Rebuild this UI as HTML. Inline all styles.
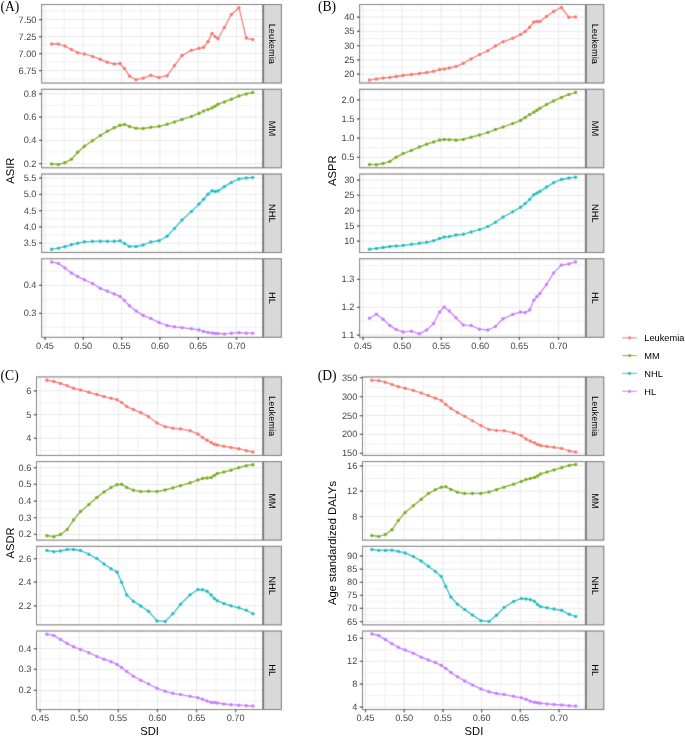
<!DOCTYPE html>
<html><head><meta charset="utf-8"><style>
html,body{margin:0;padding:0;background:#fff;}
svg{display:block;font-family:"Liberation Sans",sans-serif;will-change:transform;}
.ax{text-rendering:geometricPrecision;}
</style></head><body>
<svg width="685" height="736" viewBox="0 0 685 736">
<defs><filter id="bl" x="0" y="0" width="685" height="736" filterUnits="userSpaceOnUse"><feConvolveMatrix order="3" kernelMatrix="0.01440 0.09120 0.01440 0.09120 0.57760 0.09120 0.01440 0.09120 0.01440" divisor="1" edgeMode="duplicate" preserveAlpha="true"/></filter></defs>
<rect width="685" height="736" fill="#fff"/>
<g filter="url(#bl)">
<rect width="685" height="736" fill="#fff"/>
<rect x="41.65" y="4.50" width="221.05" height="78.55" fill="#fff"/>
<path d="M41.65 79.00H262.70M41.65 62.00H262.70M41.65 45.00H262.70M41.65 28.00H262.70M41.65 11.00H262.70M64.15 4.50V83.05M102.45 4.50V83.05M140.75 4.50V83.05M179.05 4.50V83.05M217.35 4.50V83.05M255.65 4.50V83.05" stroke="#EDEDED" stroke-width="0.8" fill="none"/>
<path d="M41.65 70.50H262.70M41.65 53.50H262.70M41.65 36.50H262.70M41.65 19.50H262.70M45.00 4.50V83.05M83.30 4.50V83.05M121.60 4.50V83.05M159.90 4.50V83.05M198.20 4.50V83.05M236.50 4.50V83.05" stroke="#E9E9E9" stroke-width="1.0" fill="none"/>
<polyline points="51.60,44.00 58.34,44.00 64.88,46.10 71.42,49.50 77.66,52.70 84.40,54.00 92.50,56.40 100.31,59.30 107.34,62.20 114.18,64.10 120.03,63.50 124.52,68.60 129.50,76.10 136.04,79.70 143.17,78.20 150.78,75.30 159.08,77.40 167.09,75.70 174.51,65.60 182.02,55.40 191.39,50.30 199.01,48.30 203.60,47.30 207.99,41.60 211.99,33.40 215.02,36.40 217.95,38.70 224.39,27.50 231.32,14.40 238.94,7.70 246.26,38.10 252.70,39.60" stroke="#F8766D" stroke-width="1.3" fill="none" stroke-linejoin="round"/>
<g fill="#F8766D"><circle cx="51.60" cy="44.00" r="1.75"/><circle cx="58.34" cy="44.00" r="1.75"/><circle cx="64.88" cy="46.10" r="1.75"/><circle cx="71.42" cy="49.50" r="1.75"/><circle cx="77.66" cy="52.70" r="1.75"/><circle cx="84.40" cy="54.00" r="1.75"/><circle cx="92.50" cy="56.40" r="1.75"/><circle cx="100.31" cy="59.30" r="1.75"/><circle cx="107.34" cy="62.20" r="1.75"/><circle cx="114.18" cy="64.10" r="1.75"/><circle cx="120.03" cy="63.50" r="1.75"/><circle cx="124.52" cy="68.60" r="1.75"/><circle cx="129.50" cy="76.10" r="1.75"/><circle cx="136.04" cy="79.70" r="1.75"/><circle cx="143.17" cy="78.20" r="1.75"/><circle cx="150.78" cy="75.30" r="1.75"/><circle cx="159.08" cy="77.40" r="1.75"/><circle cx="167.09" cy="75.70" r="1.75"/><circle cx="174.51" cy="65.60" r="1.75"/><circle cx="182.02" cy="55.40" r="1.75"/><circle cx="191.39" cy="50.30" r="1.75"/><circle cx="199.01" cy="48.30" r="1.75"/><circle cx="203.60" cy="47.30" r="1.75"/><circle cx="207.99" cy="41.60" r="1.75"/><circle cx="211.99" cy="33.40" r="1.75"/><circle cx="215.02" cy="36.40" r="1.75"/><circle cx="217.95" cy="38.70" r="1.75"/><circle cx="224.39" cy="27.50" r="1.75"/><circle cx="231.32" cy="14.40" r="1.75"/><circle cx="238.94" cy="7.70" r="1.75"/><circle cx="246.26" cy="38.10" r="1.75"/><circle cx="252.70" cy="39.60" r="1.75"/></g>
<rect x="41.65" y="4.50" width="221.05" height="78.55" fill="none" stroke="#6A6A6A" stroke-width="1.0"/>
<rect x="263.60" y="4.50" width="17.80" height="78.55" fill="#D9D9D9" stroke="#6A6A6A" stroke-width="1.0"/>
<path class="tk" d="M38.95 70.50H41.65M38.95 53.50H41.65M38.95 36.50H41.65M38.95 19.50H41.65" stroke="#333333" stroke-width="1.25"/>
<rect x="41.65" y="89.25" width="221.05" height="78.55" fill="#fff"/>
<path d="M41.65 151.97H262.70M41.65 128.70H262.70M41.65 105.43H262.70M64.15 89.25V167.80M102.45 89.25V167.80M140.75 89.25V167.80M179.05 89.25V167.80M217.35 89.25V167.80M255.65 89.25V167.80" stroke="#EDEDED" stroke-width="0.8" fill="none"/>
<path d="M41.65 163.60H262.70M41.65 140.33H262.70M41.65 117.07H262.70M41.65 93.80H262.70M45.00 89.25V167.80M83.30 89.25V167.80M121.60 89.25V167.80M159.90 89.25V167.80M198.20 89.25V167.80M236.50 89.25V167.80" stroke="#E9E9E9" stroke-width="1.0" fill="none"/>
<polyline points="51.60,163.90 58.34,164.50 64.88,162.70 71.42,159.30 77.66,152.30 84.40,146.30 92.50,140.70 100.31,135.50 107.34,131.30 114.18,127.80 120.03,125.30 124.52,124.60 129.50,126.40 136.04,128.30 143.17,128.50 150.78,127.35 159.08,126.30 167.09,124.30 174.51,121.90 182.02,119.40 191.39,116.40 199.01,113.30 203.60,111.00 207.99,109.50 211.99,108.10 215.02,106.30 217.95,104.30 224.39,101.90 231.32,99.20 238.94,96.10 246.26,93.90 252.70,92.50" stroke="#7CAE00" stroke-width="1.3" fill="none" stroke-linejoin="round"/>
<g fill="#7CAE00"><circle cx="51.60" cy="163.90" r="1.75"/><circle cx="58.34" cy="164.50" r="1.75"/><circle cx="64.88" cy="162.70" r="1.75"/><circle cx="71.42" cy="159.30" r="1.75"/><circle cx="77.66" cy="152.30" r="1.75"/><circle cx="84.40" cy="146.30" r="1.75"/><circle cx="92.50" cy="140.70" r="1.75"/><circle cx="100.31" cy="135.50" r="1.75"/><circle cx="107.34" cy="131.30" r="1.75"/><circle cx="114.18" cy="127.80" r="1.75"/><circle cx="120.03" cy="125.30" r="1.75"/><circle cx="124.52" cy="124.60" r="1.75"/><circle cx="129.50" cy="126.40" r="1.75"/><circle cx="136.04" cy="128.30" r="1.75"/><circle cx="143.17" cy="128.50" r="1.75"/><circle cx="150.78" cy="127.35" r="1.75"/><circle cx="159.08" cy="126.30" r="1.75"/><circle cx="167.09" cy="124.30" r="1.75"/><circle cx="174.51" cy="121.90" r="1.75"/><circle cx="182.02" cy="119.40" r="1.75"/><circle cx="191.39" cy="116.40" r="1.75"/><circle cx="199.01" cy="113.30" r="1.75"/><circle cx="203.60" cy="111.00" r="1.75"/><circle cx="207.99" cy="109.50" r="1.75"/><circle cx="211.99" cy="108.10" r="1.75"/><circle cx="215.02" cy="106.30" r="1.75"/><circle cx="217.95" cy="104.30" r="1.75"/><circle cx="224.39" cy="101.90" r="1.75"/><circle cx="231.32" cy="99.20" r="1.75"/><circle cx="238.94" cy="96.10" r="1.75"/><circle cx="246.26" cy="93.90" r="1.75"/><circle cx="252.70" cy="92.50" r="1.75"/></g>
<rect x="41.65" y="89.25" width="221.05" height="78.55" fill="none" stroke="#6A6A6A" stroke-width="1.0"/>
<rect x="263.60" y="89.25" width="17.80" height="78.55" fill="#D9D9D9" stroke="#6A6A6A" stroke-width="1.0"/>
<path class="tk" d="M38.95 163.60H41.65M38.95 140.33H41.65M38.95 117.07H41.65M38.95 93.80H41.65" stroke="#333333" stroke-width="1.25"/>
<rect x="41.65" y="174.00" width="221.05" height="78.55" fill="#fff"/>
<path d="M41.65 251.35H262.70M41.65 235.05H262.70M41.65 218.75H262.70M41.65 202.45H262.70M41.65 186.15H262.70M64.15 174.00V252.55M102.45 174.00V252.55M140.75 174.00V252.55M179.05 174.00V252.55M217.35 174.00V252.55M255.65 174.00V252.55" stroke="#EDEDED" stroke-width="0.8" fill="none"/>
<path d="M41.65 243.20H262.70M41.65 226.90H262.70M41.65 210.60H262.70M41.65 194.30H262.70M41.65 178.00H262.70M45.00 174.00V252.55M83.30 174.00V252.55M121.60 174.00V252.55M159.90 174.00V252.55M198.20 174.00V252.55M236.50 174.00V252.55" stroke="#E9E9E9" stroke-width="1.0" fill="none"/>
<polyline points="51.60,249.20 58.34,248.20 64.88,246.70 71.42,244.80 77.66,243.20 84.40,241.80 92.50,241.30 100.31,241.20 107.34,241.30 114.18,241.30 120.03,240.80 124.52,243.50 129.50,246.40 136.04,246.50 143.17,245.00 150.78,242.00 159.08,240.70 167.09,236.30 174.51,228.40 182.02,220.00 191.39,211.40 199.01,204.10 203.60,199.20 207.99,194.30 211.99,190.80 215.02,191.50 217.95,191.10 224.39,186.60 231.32,182.40 238.94,179.00 246.26,178.00 252.70,177.40" stroke="#00BFC4" stroke-width="1.3" fill="none" stroke-linejoin="round"/>
<g fill="#00BFC4"><circle cx="51.60" cy="249.20" r="1.75"/><circle cx="58.34" cy="248.20" r="1.75"/><circle cx="64.88" cy="246.70" r="1.75"/><circle cx="71.42" cy="244.80" r="1.75"/><circle cx="77.66" cy="243.20" r="1.75"/><circle cx="84.40" cy="241.80" r="1.75"/><circle cx="92.50" cy="241.30" r="1.75"/><circle cx="100.31" cy="241.20" r="1.75"/><circle cx="107.34" cy="241.30" r="1.75"/><circle cx="114.18" cy="241.30" r="1.75"/><circle cx="120.03" cy="240.80" r="1.75"/><circle cx="124.52" cy="243.50" r="1.75"/><circle cx="129.50" cy="246.40" r="1.75"/><circle cx="136.04" cy="246.50" r="1.75"/><circle cx="143.17" cy="245.00" r="1.75"/><circle cx="150.78" cy="242.00" r="1.75"/><circle cx="159.08" cy="240.70" r="1.75"/><circle cx="167.09" cy="236.30" r="1.75"/><circle cx="174.51" cy="228.40" r="1.75"/><circle cx="182.02" cy="220.00" r="1.75"/><circle cx="191.39" cy="211.40" r="1.75"/><circle cx="199.01" cy="204.10" r="1.75"/><circle cx="203.60" cy="199.20" r="1.75"/><circle cx="207.99" cy="194.30" r="1.75"/><circle cx="211.99" cy="190.80" r="1.75"/><circle cx="215.02" cy="191.50" r="1.75"/><circle cx="217.95" cy="191.10" r="1.75"/><circle cx="224.39" cy="186.60" r="1.75"/><circle cx="231.32" cy="182.40" r="1.75"/><circle cx="238.94" cy="179.00" r="1.75"/><circle cx="246.26" cy="178.00" r="1.75"/><circle cx="252.70" cy="177.40" r="1.75"/></g>
<rect x="41.65" y="174.00" width="221.05" height="78.55" fill="none" stroke="#6A6A6A" stroke-width="1.0"/>
<rect x="263.60" y="174.00" width="17.80" height="78.55" fill="#D9D9D9" stroke="#6A6A6A" stroke-width="1.0"/>
<path class="tk" d="M38.95 243.20H41.65M38.95 226.90H41.65M38.95 210.60H41.65M38.95 194.30H41.65M38.95 178.00H41.65" stroke="#333333" stroke-width="1.25"/>
<rect x="41.65" y="258.75" width="221.05" height="78.55" fill="#fff"/>
<path d="M41.65 327.40H262.70M41.65 299.40H262.70M41.65 271.40H262.70M64.15 258.75V337.30M102.45 258.75V337.30M140.75 258.75V337.30M179.05 258.75V337.30M217.35 258.75V337.30M255.65 258.75V337.30" stroke="#EDEDED" stroke-width="0.8" fill="none"/>
<path d="M41.65 313.40H262.70M41.65 285.40H262.70M45.00 258.75V337.30M83.30 258.75V337.30M121.60 258.75V337.30M159.90 258.75V337.30M198.20 258.75V337.30M236.50 258.75V337.30" stroke="#E9E9E9" stroke-width="1.0" fill="none"/>
<polyline points="51.60,261.90 58.34,263.40 64.88,267.90 71.42,272.90 77.66,276.60 84.40,279.80 92.50,283.50 100.31,288.40 107.34,291.10 114.18,293.90 120.03,296.40 124.52,300.60 129.50,305.80 136.04,310.90 143.17,315.40 150.78,318.40 159.08,322.60 167.09,325.50 174.51,326.80 182.02,327.70 191.39,328.80 199.01,330.00 203.60,331.40 207.99,332.40 211.99,332.90 215.02,333.40 217.95,333.50 224.39,333.90 231.32,333.20 238.94,332.70 246.26,333.20 252.70,333.20" stroke="#C77CFF" stroke-width="1.3" fill="none" stroke-linejoin="round"/>
<g fill="#C77CFF"><circle cx="51.60" cy="261.90" r="1.75"/><circle cx="58.34" cy="263.40" r="1.75"/><circle cx="64.88" cy="267.90" r="1.75"/><circle cx="71.42" cy="272.90" r="1.75"/><circle cx="77.66" cy="276.60" r="1.75"/><circle cx="84.40" cy="279.80" r="1.75"/><circle cx="92.50" cy="283.50" r="1.75"/><circle cx="100.31" cy="288.40" r="1.75"/><circle cx="107.34" cy="291.10" r="1.75"/><circle cx="114.18" cy="293.90" r="1.75"/><circle cx="120.03" cy="296.40" r="1.75"/><circle cx="124.52" cy="300.60" r="1.75"/><circle cx="129.50" cy="305.80" r="1.75"/><circle cx="136.04" cy="310.90" r="1.75"/><circle cx="143.17" cy="315.40" r="1.75"/><circle cx="150.78" cy="318.40" r="1.75"/><circle cx="159.08" cy="322.60" r="1.75"/><circle cx="167.09" cy="325.50" r="1.75"/><circle cx="174.51" cy="326.80" r="1.75"/><circle cx="182.02" cy="327.70" r="1.75"/><circle cx="191.39" cy="328.80" r="1.75"/><circle cx="199.01" cy="330.00" r="1.75"/><circle cx="203.60" cy="331.40" r="1.75"/><circle cx="207.99" cy="332.40" r="1.75"/><circle cx="211.99" cy="332.90" r="1.75"/><circle cx="215.02" cy="333.40" r="1.75"/><circle cx="217.95" cy="333.50" r="1.75"/><circle cx="224.39" cy="333.90" r="1.75"/><circle cx="231.32" cy="333.20" r="1.75"/><circle cx="238.94" cy="332.70" r="1.75"/><circle cx="246.26" cy="333.20" r="1.75"/><circle cx="252.70" cy="333.20" r="1.75"/></g>
<rect x="41.65" y="258.75" width="221.05" height="78.55" fill="none" stroke="#6A6A6A" stroke-width="1.0"/>
<rect x="263.60" y="258.75" width="17.80" height="78.55" fill="#D9D9D9" stroke="#6A6A6A" stroke-width="1.0"/>
<path class="tk" d="M38.95 313.40H41.65M38.95 285.40H41.65" stroke="#333333" stroke-width="1.25"/>
<path class="tk" d="M45.00 337.30V340.00M83.30 337.30V340.00M121.60 337.30V340.00M159.90 337.30V340.00M198.20 337.30V340.00M236.50 337.30V340.00" stroke="#333333" stroke-width="1.25"/>
<rect x="359.60" y="4.50" width="225.80" height="78.55" fill="#fff"/>
<path d="M359.60 81.34H585.40M359.60 67.06H585.40M359.60 52.79H585.40M359.60 38.51H585.40M359.60 24.24H585.40M359.60 9.96H585.40M382.55 4.50V83.05M421.65 4.50V83.05M460.75 4.50V83.05M499.85 4.50V83.05M538.95 4.50V83.05M578.05 4.50V83.05" stroke="#EDEDED" stroke-width="0.8" fill="none"/>
<path d="M359.60 74.20H585.40M359.60 59.93H585.40M359.60 45.65H585.40M359.60 31.38H585.40M359.60 17.10H585.40M363.00 4.50V83.05M402.10 4.50V83.05M441.20 4.50V83.05M480.30 4.50V83.05M519.40 4.50V83.05M558.50 4.50V83.05" stroke="#E9E9E9" stroke-width="1.0" fill="none"/>
<polyline points="369.50,79.90 376.40,78.90 383.10,78.00 389.80,77.40 396.20,76.50 403.10,75.50 411.40,74.50 419.40,73.50 426.60,72.50 433.60,71.30 439.60,69.60 444.20,69.00 449.30,68.00 456.00,66.40 463.30,63.30 471.10,58.90 479.60,54.50 487.80,50.80 495.40,46.10 503.10,41.80 512.70,38.20 520.50,34.60 525.20,31.40 529.70,27.20 533.80,22.10 536.90,21.50 539.90,21.50 546.50,16.60 553.60,11.40 561.40,7.50 568.90,17.30 575.50,16.90" stroke="#F8766D" stroke-width="1.3" fill="none" stroke-linejoin="round"/>
<g fill="#F8766D"><circle cx="369.50" cy="79.90" r="1.75"/><circle cx="376.40" cy="78.90" r="1.75"/><circle cx="383.10" cy="78.00" r="1.75"/><circle cx="389.80" cy="77.40" r="1.75"/><circle cx="396.20" cy="76.50" r="1.75"/><circle cx="403.10" cy="75.50" r="1.75"/><circle cx="411.40" cy="74.50" r="1.75"/><circle cx="419.40" cy="73.50" r="1.75"/><circle cx="426.60" cy="72.50" r="1.75"/><circle cx="433.60" cy="71.30" r="1.75"/><circle cx="439.60" cy="69.60" r="1.75"/><circle cx="444.20" cy="69.00" r="1.75"/><circle cx="449.30" cy="68.00" r="1.75"/><circle cx="456.00" cy="66.40" r="1.75"/><circle cx="463.30" cy="63.30" r="1.75"/><circle cx="471.10" cy="58.90" r="1.75"/><circle cx="479.60" cy="54.50" r="1.75"/><circle cx="487.80" cy="50.80" r="1.75"/><circle cx="495.40" cy="46.10" r="1.75"/><circle cx="503.10" cy="41.80" r="1.75"/><circle cx="512.70" cy="38.20" r="1.75"/><circle cx="520.50" cy="34.60" r="1.75"/><circle cx="525.20" cy="31.40" r="1.75"/><circle cx="529.70" cy="27.20" r="1.75"/><circle cx="533.80" cy="22.10" r="1.75"/><circle cx="536.90" cy="21.50" r="1.75"/><circle cx="539.90" cy="21.50" r="1.75"/><circle cx="546.50" cy="16.60" r="1.75"/><circle cx="553.60" cy="11.40" r="1.75"/><circle cx="561.40" cy="7.50" r="1.75"/><circle cx="568.90" cy="17.30" r="1.75"/><circle cx="575.50" cy="16.90" r="1.75"/></g>
<rect x="359.60" y="4.50" width="225.80" height="78.55" fill="none" stroke="#6A6A6A" stroke-width="1.0"/>
<rect x="586.30" y="4.50" width="17.50" height="78.55" fill="#D9D9D9" stroke="#6A6A6A" stroke-width="1.0"/>
<path class="tk" d="M356.90 74.20H359.60M356.90 59.93H359.60M356.90 45.65H359.60M356.90 31.38H359.60M356.90 17.10H359.60" stroke="#333333" stroke-width="1.25"/>
<rect x="359.60" y="89.25" width="225.80" height="78.55" fill="#fff"/>
<path d="M359.60 166.88H585.40M359.60 147.72H585.40M359.60 128.55H585.40M359.60 109.38H585.40M359.60 90.22H585.40M382.55 89.25V167.80M421.65 89.25V167.80M460.75 89.25V167.80M499.85 89.25V167.80M538.95 89.25V167.80M578.05 89.25V167.80" stroke="#EDEDED" stroke-width="0.8" fill="none"/>
<path d="M359.60 157.30H585.40M359.60 138.13H585.40M359.60 118.97H585.40M359.60 99.80H585.40M363.00 89.25V167.80M402.10 89.25V167.80M441.20 89.25V167.80M480.30 89.25V167.80M519.40 89.25V167.80M558.50 89.25V167.80" stroke="#E9E9E9" stroke-width="1.0" fill="none"/>
<polyline points="369.50,164.40 376.40,164.70 383.10,163.50 389.80,161.40 396.20,157.20 403.10,153.60 411.40,150.40 419.40,147.10 426.60,144.20 433.60,141.90 439.60,140.00 444.20,139.40 449.30,139.70 456.00,140.20 463.30,139.40 471.10,137.20 479.60,135.00 487.80,132.50 495.40,129.60 503.10,126.90 512.70,123.60 520.50,120.40 525.20,117.40 529.70,114.50 533.80,112.20 536.90,110.30 539.90,108.30 546.50,104.60 553.60,100.90 561.40,97.40 568.90,94.40 575.50,92.50" stroke="#7CAE00" stroke-width="1.3" fill="none" stroke-linejoin="round"/>
<g fill="#7CAE00"><circle cx="369.50" cy="164.40" r="1.75"/><circle cx="376.40" cy="164.70" r="1.75"/><circle cx="383.10" cy="163.50" r="1.75"/><circle cx="389.80" cy="161.40" r="1.75"/><circle cx="396.20" cy="157.20" r="1.75"/><circle cx="403.10" cy="153.60" r="1.75"/><circle cx="411.40" cy="150.40" r="1.75"/><circle cx="419.40" cy="147.10" r="1.75"/><circle cx="426.60" cy="144.20" r="1.75"/><circle cx="433.60" cy="141.90" r="1.75"/><circle cx="439.60" cy="140.00" r="1.75"/><circle cx="444.20" cy="139.40" r="1.75"/><circle cx="449.30" cy="139.70" r="1.75"/><circle cx="456.00" cy="140.20" r="1.75"/><circle cx="463.30" cy="139.40" r="1.75"/><circle cx="471.10" cy="137.20" r="1.75"/><circle cx="479.60" cy="135.00" r="1.75"/><circle cx="487.80" cy="132.50" r="1.75"/><circle cx="495.40" cy="129.60" r="1.75"/><circle cx="503.10" cy="126.90" r="1.75"/><circle cx="512.70" cy="123.60" r="1.75"/><circle cx="520.50" cy="120.40" r="1.75"/><circle cx="525.20" cy="117.40" r="1.75"/><circle cx="529.70" cy="114.50" r="1.75"/><circle cx="533.80" cy="112.20" r="1.75"/><circle cx="536.90" cy="110.30" r="1.75"/><circle cx="539.90" cy="108.30" r="1.75"/><circle cx="546.50" cy="104.60" r="1.75"/><circle cx="553.60" cy="100.90" r="1.75"/><circle cx="561.40" cy="97.40" r="1.75"/><circle cx="568.90" cy="94.40" r="1.75"/><circle cx="575.50" cy="92.50" r="1.75"/></g>
<rect x="359.60" y="89.25" width="225.80" height="78.55" fill="none" stroke="#6A6A6A" stroke-width="1.0"/>
<rect x="586.30" y="89.25" width="17.50" height="78.55" fill="#D9D9D9" stroke="#6A6A6A" stroke-width="1.0"/>
<path class="tk" d="M356.90 157.30H359.60M356.90 138.13H359.60M356.90 118.97H359.60M356.90 99.80H359.60" stroke="#333333" stroke-width="1.25"/>
<rect x="359.60" y="174.00" width="225.80" height="78.55" fill="#fff"/>
<path d="M359.60 248.60H585.40M359.60 233.40H585.40M359.60 218.20H585.40M359.60 203.00H585.40M359.60 187.80H585.40M382.55 174.00V252.55M421.65 174.00V252.55M460.75 174.00V252.55M499.85 174.00V252.55M538.95 174.00V252.55M578.05 174.00V252.55" stroke="#EDEDED" stroke-width="0.8" fill="none"/>
<path d="M359.60 241.00H585.40M359.60 225.80H585.40M359.60 210.60H585.40M359.60 195.40H585.40M359.60 180.20H585.40M363.00 174.00V252.55M402.10 174.00V252.55M441.20 174.00V252.55M480.30 174.00V252.55M519.40 174.00V252.55M558.50 174.00V252.55" stroke="#E9E9E9" stroke-width="1.0" fill="none"/>
<polyline points="369.50,249.20 376.40,248.40 383.10,247.50 389.80,246.50 396.20,246.00 403.10,245.40 411.40,244.30 419.40,243.30 426.60,242.30 433.60,240.80 439.60,238.60 444.20,237.10 449.30,236.60 456.00,235.00 463.30,234.30 471.10,231.90 479.60,229.60 487.80,226.60 495.40,222.20 503.10,217.00 512.70,211.80 520.50,207.20 525.20,203.40 529.70,199.40 533.80,194.80 536.90,193.10 539.90,191.60 546.50,187.10 553.60,182.70 561.40,179.50 568.90,178.00 575.50,177.20" stroke="#00BFC4" stroke-width="1.3" fill="none" stroke-linejoin="round"/>
<g fill="#00BFC4"><circle cx="369.50" cy="249.20" r="1.75"/><circle cx="376.40" cy="248.40" r="1.75"/><circle cx="383.10" cy="247.50" r="1.75"/><circle cx="389.80" cy="246.50" r="1.75"/><circle cx="396.20" cy="246.00" r="1.75"/><circle cx="403.10" cy="245.40" r="1.75"/><circle cx="411.40" cy="244.30" r="1.75"/><circle cx="419.40" cy="243.30" r="1.75"/><circle cx="426.60" cy="242.30" r="1.75"/><circle cx="433.60" cy="240.80" r="1.75"/><circle cx="439.60" cy="238.60" r="1.75"/><circle cx="444.20" cy="237.10" r="1.75"/><circle cx="449.30" cy="236.60" r="1.75"/><circle cx="456.00" cy="235.00" r="1.75"/><circle cx="463.30" cy="234.30" r="1.75"/><circle cx="471.10" cy="231.90" r="1.75"/><circle cx="479.60" cy="229.60" r="1.75"/><circle cx="487.80" cy="226.60" r="1.75"/><circle cx="495.40" cy="222.20" r="1.75"/><circle cx="503.10" cy="217.00" r="1.75"/><circle cx="512.70" cy="211.80" r="1.75"/><circle cx="520.50" cy="207.20" r="1.75"/><circle cx="525.20" cy="203.40" r="1.75"/><circle cx="529.70" cy="199.40" r="1.75"/><circle cx="533.80" cy="194.80" r="1.75"/><circle cx="536.90" cy="193.10" r="1.75"/><circle cx="539.90" cy="191.60" r="1.75"/><circle cx="546.50" cy="187.10" r="1.75"/><circle cx="553.60" cy="182.70" r="1.75"/><circle cx="561.40" cy="179.50" r="1.75"/><circle cx="568.90" cy="178.00" r="1.75"/><circle cx="575.50" cy="177.20" r="1.75"/></g>
<rect x="359.60" y="174.00" width="225.80" height="78.55" fill="none" stroke="#6A6A6A" stroke-width="1.0"/>
<rect x="586.30" y="174.00" width="17.50" height="78.55" fill="#D9D9D9" stroke="#6A6A6A" stroke-width="1.0"/>
<path class="tk" d="M356.90 241.00H359.60M356.90 225.80H359.60M356.90 210.60H359.60M356.90 195.40H359.60M356.90 180.20H359.60" stroke="#333333" stroke-width="1.25"/>
<rect x="359.60" y="258.75" width="225.80" height="78.55" fill="#fff"/>
<path d="M359.60 321.18H585.40M359.60 293.32H585.40M359.60 265.47H585.40M382.55 258.75V337.30M421.65 258.75V337.30M460.75 258.75V337.30M499.85 258.75V337.30M538.95 258.75V337.30M578.05 258.75V337.30" stroke="#EDEDED" stroke-width="0.8" fill="none"/>
<path d="M359.60 335.10H585.40M359.60 307.25H585.40M359.60 279.40H585.40M363.00 258.75V337.30M402.10 258.75V337.30M441.20 258.75V337.30M480.30 258.75V337.30M519.40 258.75V337.30M558.50 258.75V337.30" stroke="#E9E9E9" stroke-width="1.0" fill="none"/>
<polyline points="369.50,318.20 376.40,314.20 383.10,319.30 389.80,325.40 396.20,329.60 403.10,331.90 411.40,331.20 419.40,333.80 426.60,330.10 433.60,323.50 439.60,312.00 444.20,307.00 449.30,311.00 456.00,317.70 463.30,325.10 471.10,325.60 479.60,329.20 487.80,330.00 495.40,326.50 503.10,318.80 512.70,314.40 520.50,312.10 525.20,312.60 529.70,309.90 533.80,300.30 536.90,296.60 539.90,293.40 546.50,284.50 553.60,272.90 561.40,265.10 568.90,263.90 575.50,261.90" stroke="#C77CFF" stroke-width="1.3" fill="none" stroke-linejoin="round"/>
<g fill="#C77CFF"><circle cx="369.50" cy="318.20" r="1.75"/><circle cx="376.40" cy="314.20" r="1.75"/><circle cx="383.10" cy="319.30" r="1.75"/><circle cx="389.80" cy="325.40" r="1.75"/><circle cx="396.20" cy="329.60" r="1.75"/><circle cx="403.10" cy="331.90" r="1.75"/><circle cx="411.40" cy="331.20" r="1.75"/><circle cx="419.40" cy="333.80" r="1.75"/><circle cx="426.60" cy="330.10" r="1.75"/><circle cx="433.60" cy="323.50" r="1.75"/><circle cx="439.60" cy="312.00" r="1.75"/><circle cx="444.20" cy="307.00" r="1.75"/><circle cx="449.30" cy="311.00" r="1.75"/><circle cx="456.00" cy="317.70" r="1.75"/><circle cx="463.30" cy="325.10" r="1.75"/><circle cx="471.10" cy="325.60" r="1.75"/><circle cx="479.60" cy="329.20" r="1.75"/><circle cx="487.80" cy="330.00" r="1.75"/><circle cx="495.40" cy="326.50" r="1.75"/><circle cx="503.10" cy="318.80" r="1.75"/><circle cx="512.70" cy="314.40" r="1.75"/><circle cx="520.50" cy="312.10" r="1.75"/><circle cx="525.20" cy="312.60" r="1.75"/><circle cx="529.70" cy="309.90" r="1.75"/><circle cx="533.80" cy="300.30" r="1.75"/><circle cx="536.90" cy="296.60" r="1.75"/><circle cx="539.90" cy="293.40" r="1.75"/><circle cx="546.50" cy="284.50" r="1.75"/><circle cx="553.60" cy="272.90" r="1.75"/><circle cx="561.40" cy="265.10" r="1.75"/><circle cx="568.90" cy="263.90" r="1.75"/><circle cx="575.50" cy="261.90" r="1.75"/></g>
<rect x="359.60" y="258.75" width="225.80" height="78.55" fill="none" stroke="#6A6A6A" stroke-width="1.0"/>
<rect x="586.30" y="258.75" width="17.50" height="78.55" fill="#D9D9D9" stroke="#6A6A6A" stroke-width="1.0"/>
<path class="tk" d="M356.90 335.10H359.60M356.90 307.25H359.60M356.90 279.40H359.60" stroke="#333333" stroke-width="1.25"/>
<path class="tk" d="M363.00 337.30V340.00M402.10 337.30V340.00M441.20 337.30V340.00M480.30 337.30V340.00M519.40 337.30V340.00M558.50 337.30V340.00" stroke="#333333" stroke-width="1.25"/>
<rect x="36.50" y="376.90" width="226.20" height="78.55" fill="#fff"/>
<path d="M36.50 450.18H262.70M36.50 426.43H262.70M36.50 402.68H262.70M36.50 378.93H262.70M59.65 376.90V455.45M98.75 376.90V455.45M137.85 376.90V455.45M176.95 376.90V455.45M216.05 376.90V455.45M255.15 376.90V455.45" stroke="#EDEDED" stroke-width="0.8" fill="none"/>
<path d="M36.50 438.30H262.70M36.50 414.55H262.70M36.50 390.80H262.70M40.10 376.90V455.45M79.20 376.90V455.45M118.30 376.90V455.45M157.40 376.90V455.45M196.50 376.90V455.45M235.60 376.90V455.45" stroke="#E9E9E9" stroke-width="1.0" fill="none"/>
<polyline points="46.90,380.20 53.80,381.50 60.50,383.40 67.20,385.70 73.60,388.30 80.50,389.90 88.80,392.30 96.80,394.50 104.00,396.60 111.00,398.30 117.00,399.70 121.60,402.50 126.70,406.60 133.40,409.60 140.70,412.60 148.50,416.70 157.00,423.00 165.20,426.70 172.80,428.20 180.50,428.90 190.10,430.70 197.90,434.10 202.60,437.60 207.10,440.30 211.20,442.50 214.30,444.20 217.30,445.00 223.90,446.30 231.00,447.50 238.80,448.70 246.30,450.70 252.90,452.00" stroke="#F8766D" stroke-width="1.3" fill="none" stroke-linejoin="round"/>
<g fill="#F8766D"><circle cx="46.90" cy="380.20" r="1.75"/><circle cx="53.80" cy="381.50" r="1.75"/><circle cx="60.50" cy="383.40" r="1.75"/><circle cx="67.20" cy="385.70" r="1.75"/><circle cx="73.60" cy="388.30" r="1.75"/><circle cx="80.50" cy="389.90" r="1.75"/><circle cx="88.80" cy="392.30" r="1.75"/><circle cx="96.80" cy="394.50" r="1.75"/><circle cx="104.00" cy="396.60" r="1.75"/><circle cx="111.00" cy="398.30" r="1.75"/><circle cx="117.00" cy="399.70" r="1.75"/><circle cx="121.60" cy="402.50" r="1.75"/><circle cx="126.70" cy="406.60" r="1.75"/><circle cx="133.40" cy="409.60" r="1.75"/><circle cx="140.70" cy="412.60" r="1.75"/><circle cx="148.50" cy="416.70" r="1.75"/><circle cx="157.00" cy="423.00" r="1.75"/><circle cx="165.20" cy="426.70" r="1.75"/><circle cx="172.80" cy="428.20" r="1.75"/><circle cx="180.50" cy="428.90" r="1.75"/><circle cx="190.10" cy="430.70" r="1.75"/><circle cx="197.90" cy="434.10" r="1.75"/><circle cx="202.60" cy="437.60" r="1.75"/><circle cx="207.10" cy="440.30" r="1.75"/><circle cx="211.20" cy="442.50" r="1.75"/><circle cx="214.30" cy="444.20" r="1.75"/><circle cx="217.30" cy="445.00" r="1.75"/><circle cx="223.90" cy="446.30" r="1.75"/><circle cx="231.00" cy="447.50" r="1.75"/><circle cx="238.80" cy="448.70" r="1.75"/><circle cx="246.30" cy="450.70" r="1.75"/><circle cx="252.90" cy="452.00" r="1.75"/></g>
<rect x="36.50" y="376.90" width="226.20" height="78.55" fill="none" stroke="#6A6A6A" stroke-width="1.0"/>
<rect x="263.60" y="376.90" width="17.80" height="78.55" fill="#D9D9D9" stroke="#6A6A6A" stroke-width="1.0"/>
<path class="tk" d="M33.80 438.30H36.50M33.80 414.55H36.50M33.80 390.80H36.50" stroke="#333333" stroke-width="1.25"/>
<rect x="36.50" y="461.60" width="226.20" height="78.55" fill="#fff"/>
<path d="M36.50 526.06H262.70M36.50 509.39H262.70M36.50 492.71H262.70M36.50 476.04H262.70M59.65 461.60V540.15M98.75 461.60V540.15M137.85 461.60V540.15M176.95 461.60V540.15M216.05 461.60V540.15M255.15 461.60V540.15" stroke="#EDEDED" stroke-width="0.8" fill="none"/>
<path d="M36.50 534.40H262.70M36.50 517.72H262.70M36.50 501.05H262.70M36.50 484.38H262.70M36.50 467.70H262.70M40.10 461.60V540.15M79.20 461.60V540.15M118.30 461.60V540.15M157.40 461.60V540.15M196.50 461.60V540.15M235.60 461.60V540.15" stroke="#E9E9E9" stroke-width="1.0" fill="none"/>
<polyline points="46.90,535.70 53.80,536.70 60.50,534.40 67.20,529.50 73.60,519.90 80.50,511.50 88.80,504.60 96.80,497.60 104.00,492.10 111.00,487.50 117.00,484.70 121.60,484.30 126.70,487.40 133.40,490.20 140.70,491.60 148.50,491.20 157.00,491.60 165.20,490.00 172.80,487.90 180.50,485.70 190.10,482.80 197.90,480.00 202.60,478.50 207.10,478.00 211.20,477.60 214.30,475.40 217.30,473.40 223.90,472.10 231.00,470.20 238.80,467.70 246.30,465.70 252.90,464.70" stroke="#7CAE00" stroke-width="1.3" fill="none" stroke-linejoin="round"/>
<g fill="#7CAE00"><circle cx="46.90" cy="535.70" r="1.75"/><circle cx="53.80" cy="536.70" r="1.75"/><circle cx="60.50" cy="534.40" r="1.75"/><circle cx="67.20" cy="529.50" r="1.75"/><circle cx="73.60" cy="519.90" r="1.75"/><circle cx="80.50" cy="511.50" r="1.75"/><circle cx="88.80" cy="504.60" r="1.75"/><circle cx="96.80" cy="497.60" r="1.75"/><circle cx="104.00" cy="492.10" r="1.75"/><circle cx="111.00" cy="487.50" r="1.75"/><circle cx="117.00" cy="484.70" r="1.75"/><circle cx="121.60" cy="484.30" r="1.75"/><circle cx="126.70" cy="487.40" r="1.75"/><circle cx="133.40" cy="490.20" r="1.75"/><circle cx="140.70" cy="491.60" r="1.75"/><circle cx="148.50" cy="491.20" r="1.75"/><circle cx="157.00" cy="491.60" r="1.75"/><circle cx="165.20" cy="490.00" r="1.75"/><circle cx="172.80" cy="487.90" r="1.75"/><circle cx="180.50" cy="485.70" r="1.75"/><circle cx="190.10" cy="482.80" r="1.75"/><circle cx="197.90" cy="480.00" r="1.75"/><circle cx="202.60" cy="478.50" r="1.75"/><circle cx="207.10" cy="478.00" r="1.75"/><circle cx="211.20" cy="477.60" r="1.75"/><circle cx="214.30" cy="475.40" r="1.75"/><circle cx="217.30" cy="473.40" r="1.75"/><circle cx="223.90" cy="472.10" r="1.75"/><circle cx="231.00" cy="470.20" r="1.75"/><circle cx="238.80" cy="467.70" r="1.75"/><circle cx="246.30" cy="465.70" r="1.75"/><circle cx="252.90" cy="464.70" r="1.75"/></g>
<rect x="36.50" y="461.60" width="226.20" height="78.55" fill="none" stroke="#6A6A6A" stroke-width="1.0"/>
<rect x="263.60" y="461.60" width="17.80" height="78.55" fill="#D9D9D9" stroke="#6A6A6A" stroke-width="1.0"/>
<path class="tk" d="M33.80 534.40H36.50M33.80 517.72H36.50M33.80 501.05H36.50M33.80 484.38H36.50M33.80 467.70H36.50" stroke="#333333" stroke-width="1.25"/>
<rect x="36.50" y="546.30" width="226.20" height="78.55" fill="#fff"/>
<path d="M36.50 617.60H262.70M36.50 594.00H262.70M36.50 570.40H262.70M36.50 546.80H262.70M59.65 546.30V624.85M98.75 546.30V624.85M137.85 546.30V624.85M176.95 546.30V624.85M216.05 546.30V624.85M255.15 546.30V624.85" stroke="#EDEDED" stroke-width="0.8" fill="none"/>
<path d="M36.50 605.80H262.70M36.50 582.20H262.70M36.50 558.60H262.70M40.10 546.30V624.85M79.20 546.30V624.85M118.30 546.30V624.85M157.40 546.30V624.85M196.50 546.30V624.85M235.60 546.30V624.85" stroke="#E9E9E9" stroke-width="1.0" fill="none"/>
<polyline points="46.90,550.40 53.80,551.70 60.50,551.00 67.20,549.40 73.60,549.50 80.50,550.50 88.80,554.20 96.80,558.60 104.00,564.00 111.00,568.70 117.00,572.00 121.60,582.30 126.70,594.90 133.40,601.20 140.70,605.90 148.50,611.30 157.00,620.90 165.20,621.40 172.80,613.80 180.50,604.30 190.10,594.70 197.90,589.50 202.60,589.80 207.10,591.30 211.20,594.90 214.30,598.50 217.30,600.70 223.90,603.40 231.00,605.80 238.80,607.80 246.30,610.30 252.90,613.80" stroke="#00BFC4" stroke-width="1.3" fill="none" stroke-linejoin="round"/>
<g fill="#00BFC4"><circle cx="46.90" cy="550.40" r="1.75"/><circle cx="53.80" cy="551.70" r="1.75"/><circle cx="60.50" cy="551.00" r="1.75"/><circle cx="67.20" cy="549.40" r="1.75"/><circle cx="73.60" cy="549.50" r="1.75"/><circle cx="80.50" cy="550.50" r="1.75"/><circle cx="88.80" cy="554.20" r="1.75"/><circle cx="96.80" cy="558.60" r="1.75"/><circle cx="104.00" cy="564.00" r="1.75"/><circle cx="111.00" cy="568.70" r="1.75"/><circle cx="117.00" cy="572.00" r="1.75"/><circle cx="121.60" cy="582.30" r="1.75"/><circle cx="126.70" cy="594.90" r="1.75"/><circle cx="133.40" cy="601.20" r="1.75"/><circle cx="140.70" cy="605.90" r="1.75"/><circle cx="148.50" cy="611.30" r="1.75"/><circle cx="157.00" cy="620.90" r="1.75"/><circle cx="165.20" cy="621.40" r="1.75"/><circle cx="172.80" cy="613.80" r="1.75"/><circle cx="180.50" cy="604.30" r="1.75"/><circle cx="190.10" cy="594.70" r="1.75"/><circle cx="197.90" cy="589.50" r="1.75"/><circle cx="202.60" cy="589.80" r="1.75"/><circle cx="207.10" cy="591.30" r="1.75"/><circle cx="211.20" cy="594.90" r="1.75"/><circle cx="214.30" cy="598.50" r="1.75"/><circle cx="217.30" cy="600.70" r="1.75"/><circle cx="223.90" cy="603.40" r="1.75"/><circle cx="231.00" cy="605.80" r="1.75"/><circle cx="238.80" cy="607.80" r="1.75"/><circle cx="246.30" cy="610.30" r="1.75"/><circle cx="252.90" cy="613.80" r="1.75"/></g>
<rect x="36.50" y="546.30" width="226.20" height="78.55" fill="none" stroke="#6A6A6A" stroke-width="1.0"/>
<rect x="263.60" y="546.30" width="17.80" height="78.55" fill="#D9D9D9" stroke="#6A6A6A" stroke-width="1.0"/>
<path class="tk" d="M33.80 605.80H36.50M33.80 582.20H36.50M33.80 558.60H36.50" stroke="#333333" stroke-width="1.25"/>
<rect x="36.50" y="631.00" width="226.20" height="78.55" fill="#fff"/>
<path d="M36.50 700.88H262.70M36.50 679.92H262.70M36.50 658.98H262.70M36.50 638.02H262.70M59.65 631.00V709.55M98.75 631.00V709.55M137.85 631.00V709.55M176.95 631.00V709.55M216.05 631.00V709.55M255.15 631.00V709.55" stroke="#EDEDED" stroke-width="0.8" fill="none"/>
<path d="M36.50 690.40H262.70M36.50 669.45H262.70M36.50 648.50H262.70M40.10 631.00V709.55M79.20 631.00V709.55M118.30 631.00V709.55M157.40 631.00V709.55M196.50 631.00V709.55M235.60 631.00V709.55" stroke="#E9E9E9" stroke-width="1.0" fill="none"/>
<polyline points="46.90,634.20 53.80,635.50 60.50,639.40 67.20,643.40 73.60,646.80 80.50,649.50 88.80,652.70 96.80,656.50 104.00,659.20 111.00,661.70 117.00,664.40 121.60,667.40 126.70,671.60 133.40,676.20 140.70,680.20 148.50,684.00 157.00,688.30 165.20,691.30 172.80,693.30 180.50,694.60 190.10,696.30 197.90,697.70 202.60,699.20 207.10,701.00 211.20,702.40 214.30,702.50 217.30,703.00 223.90,704.00 231.00,704.70 238.80,705.20 246.30,705.70 252.90,706.00" stroke="#C77CFF" stroke-width="1.3" fill="none" stroke-linejoin="round"/>
<g fill="#C77CFF"><circle cx="46.90" cy="634.20" r="1.75"/><circle cx="53.80" cy="635.50" r="1.75"/><circle cx="60.50" cy="639.40" r="1.75"/><circle cx="67.20" cy="643.40" r="1.75"/><circle cx="73.60" cy="646.80" r="1.75"/><circle cx="80.50" cy="649.50" r="1.75"/><circle cx="88.80" cy="652.70" r="1.75"/><circle cx="96.80" cy="656.50" r="1.75"/><circle cx="104.00" cy="659.20" r="1.75"/><circle cx="111.00" cy="661.70" r="1.75"/><circle cx="117.00" cy="664.40" r="1.75"/><circle cx="121.60" cy="667.40" r="1.75"/><circle cx="126.70" cy="671.60" r="1.75"/><circle cx="133.40" cy="676.20" r="1.75"/><circle cx="140.70" cy="680.20" r="1.75"/><circle cx="148.50" cy="684.00" r="1.75"/><circle cx="157.00" cy="688.30" r="1.75"/><circle cx="165.20" cy="691.30" r="1.75"/><circle cx="172.80" cy="693.30" r="1.75"/><circle cx="180.50" cy="694.60" r="1.75"/><circle cx="190.10" cy="696.30" r="1.75"/><circle cx="197.90" cy="697.70" r="1.75"/><circle cx="202.60" cy="699.20" r="1.75"/><circle cx="207.10" cy="701.00" r="1.75"/><circle cx="211.20" cy="702.40" r="1.75"/><circle cx="214.30" cy="702.50" r="1.75"/><circle cx="217.30" cy="703.00" r="1.75"/><circle cx="223.90" cy="704.00" r="1.75"/><circle cx="231.00" cy="704.70" r="1.75"/><circle cx="238.80" cy="705.20" r="1.75"/><circle cx="246.30" cy="705.70" r="1.75"/><circle cx="252.90" cy="706.00" r="1.75"/></g>
<rect x="36.50" y="631.00" width="226.20" height="78.55" fill="none" stroke="#6A6A6A" stroke-width="1.0"/>
<rect x="263.60" y="631.00" width="17.80" height="78.55" fill="#D9D9D9" stroke="#6A6A6A" stroke-width="1.0"/>
<path class="tk" d="M33.80 690.40H36.50M33.80 669.45H36.50M33.80 648.50H36.50" stroke="#333333" stroke-width="1.25"/>
<path class="tk" d="M40.10 709.55V712.25M79.20 709.55V712.25M118.30 709.55V712.25M157.40 709.55V712.25M196.50 709.55V712.25M235.60 709.55V712.25" stroke="#333333" stroke-width="1.25"/>
<rect x="362.50" y="376.90" width="222.90" height="78.55" fill="#fff"/>
<path d="M362.50 443.85H585.40M362.50 424.95H585.40M362.50 406.05H585.40M362.50 387.15H585.40M384.85 376.90V455.45M423.55 376.90V455.45M462.25 376.90V455.45M500.95 376.90V455.45M539.65 376.90V455.45M578.35 376.90V455.45" stroke="#EDEDED" stroke-width="0.8" fill="none"/>
<path d="M362.50 453.30H585.40M362.50 434.40H585.40M362.50 415.50H585.40M362.50 396.60H585.40M362.50 377.70H585.40M365.50 376.90V455.45M404.20 376.90V455.45M442.90 376.90V455.45M481.60 376.90V455.45M520.30 376.90V455.45M559.00 376.90V455.45" stroke="#E9E9E9" stroke-width="1.0" fill="none"/>
<polyline points="371.90,380.20 378.73,380.70 385.35,382.20 391.98,384.40 398.31,386.70 405.14,388.30 413.35,390.40 421.27,393.00 428.39,395.60 435.32,398.20 441.25,400.50 445.80,404.40 450.85,408.40 457.48,412.40 464.70,416.30 472.41,420.70 480.82,425.50 488.94,429.40 496.46,430.40 504.07,430.70 513.57,432.90 521.29,435.60 525.94,439.10 530.39,441.10 534.45,442.80 537.51,444.50 540.48,445.50 547.01,446.50 554.03,447.30 561.75,448.50 569.17,451.00 575.70,452.00" stroke="#F8766D" stroke-width="1.3" fill="none" stroke-linejoin="round"/>
<g fill="#F8766D"><circle cx="371.90" cy="380.20" r="1.75"/><circle cx="378.73" cy="380.70" r="1.75"/><circle cx="385.35" cy="382.20" r="1.75"/><circle cx="391.98" cy="384.40" r="1.75"/><circle cx="398.31" cy="386.70" r="1.75"/><circle cx="405.14" cy="388.30" r="1.75"/><circle cx="413.35" cy="390.40" r="1.75"/><circle cx="421.27" cy="393.00" r="1.75"/><circle cx="428.39" cy="395.60" r="1.75"/><circle cx="435.32" cy="398.20" r="1.75"/><circle cx="441.25" cy="400.50" r="1.75"/><circle cx="445.80" cy="404.40" r="1.75"/><circle cx="450.85" cy="408.40" r="1.75"/><circle cx="457.48" cy="412.40" r="1.75"/><circle cx="464.70" cy="416.30" r="1.75"/><circle cx="472.41" cy="420.70" r="1.75"/><circle cx="480.82" cy="425.50" r="1.75"/><circle cx="488.94" cy="429.40" r="1.75"/><circle cx="496.46" cy="430.40" r="1.75"/><circle cx="504.07" cy="430.70" r="1.75"/><circle cx="513.57" cy="432.90" r="1.75"/><circle cx="521.29" cy="435.60" r="1.75"/><circle cx="525.94" cy="439.10" r="1.75"/><circle cx="530.39" cy="441.10" r="1.75"/><circle cx="534.45" cy="442.80" r="1.75"/><circle cx="537.51" cy="444.50" r="1.75"/><circle cx="540.48" cy="445.50" r="1.75"/><circle cx="547.01" cy="446.50" r="1.75"/><circle cx="554.03" cy="447.30" r="1.75"/><circle cx="561.75" cy="448.50" r="1.75"/><circle cx="569.17" cy="451.00" r="1.75"/><circle cx="575.70" cy="452.00" r="1.75"/></g>
<rect x="362.50" y="376.90" width="222.90" height="78.55" fill="none" stroke="#6A6A6A" stroke-width="1.0"/>
<rect x="586.30" y="376.90" width="17.50" height="78.55" fill="#D9D9D9" stroke="#6A6A6A" stroke-width="1.0"/>
<path class="tk" d="M359.80 453.30H362.50M359.80 434.40H362.50M359.80 415.50H362.50M359.80 396.60H362.50M359.80 377.70H362.50" stroke="#333333" stroke-width="1.25"/>
<rect x="362.50" y="461.60" width="222.90" height="78.55" fill="#fff"/>
<path d="M362.50 529.30H585.40M362.50 503.90H585.40M362.50 478.50H585.40M384.85 461.60V540.15M423.55 461.60V540.15M462.25 461.60V540.15M500.95 461.60V540.15M539.65 461.60V540.15M578.35 461.60V540.15" stroke="#EDEDED" stroke-width="0.8" fill="none"/>
<path d="M362.50 516.60H585.40M362.50 491.20H585.40M362.50 465.80H585.40M365.50 461.60V540.15M404.20 461.60V540.15M442.90 461.60V540.15M481.60 461.60V540.15M520.30 461.60V540.15M559.00 461.60V540.15" stroke="#E9E9E9" stroke-width="1.0" fill="none"/>
<polyline points="371.90,535.40 378.73,536.50 385.35,534.50 391.98,529.80 398.31,520.40 405.14,512.50 413.35,505.70 421.27,499.30 428.39,493.60 435.32,489.70 441.25,487.20 445.80,486.70 450.85,489.40 457.48,492.20 464.70,493.60 472.41,493.40 480.82,493.40 488.94,492.10 496.46,489.70 504.07,487.20 513.57,484.20 521.29,481.50 525.94,479.60 530.39,478.50 534.45,477.50 537.51,476.10 540.48,473.90 547.01,472.10 554.03,469.90 561.75,467.70 569.17,465.50 575.70,464.50" stroke="#7CAE00" stroke-width="1.3" fill="none" stroke-linejoin="round"/>
<g fill="#7CAE00"><circle cx="371.90" cy="535.40" r="1.75"/><circle cx="378.73" cy="536.50" r="1.75"/><circle cx="385.35" cy="534.50" r="1.75"/><circle cx="391.98" cy="529.80" r="1.75"/><circle cx="398.31" cy="520.40" r="1.75"/><circle cx="405.14" cy="512.50" r="1.75"/><circle cx="413.35" cy="505.70" r="1.75"/><circle cx="421.27" cy="499.30" r="1.75"/><circle cx="428.39" cy="493.60" r="1.75"/><circle cx="435.32" cy="489.70" r="1.75"/><circle cx="441.25" cy="487.20" r="1.75"/><circle cx="445.80" cy="486.70" r="1.75"/><circle cx="450.85" cy="489.40" r="1.75"/><circle cx="457.48" cy="492.20" r="1.75"/><circle cx="464.70" cy="493.60" r="1.75"/><circle cx="472.41" cy="493.40" r="1.75"/><circle cx="480.82" cy="493.40" r="1.75"/><circle cx="488.94" cy="492.10" r="1.75"/><circle cx="496.46" cy="489.70" r="1.75"/><circle cx="504.07" cy="487.20" r="1.75"/><circle cx="513.57" cy="484.20" r="1.75"/><circle cx="521.29" cy="481.50" r="1.75"/><circle cx="525.94" cy="479.60" r="1.75"/><circle cx="530.39" cy="478.50" r="1.75"/><circle cx="534.45" cy="477.50" r="1.75"/><circle cx="537.51" cy="476.10" r="1.75"/><circle cx="540.48" cy="473.90" r="1.75"/><circle cx="547.01" cy="472.10" r="1.75"/><circle cx="554.03" cy="469.90" r="1.75"/><circle cx="561.75" cy="467.70" r="1.75"/><circle cx="569.17" cy="465.50" r="1.75"/><circle cx="575.70" cy="464.50" r="1.75"/></g>
<rect x="362.50" y="461.60" width="222.90" height="78.55" fill="none" stroke="#6A6A6A" stroke-width="1.0"/>
<rect x="586.30" y="461.60" width="17.50" height="78.55" fill="#D9D9D9" stroke="#6A6A6A" stroke-width="1.0"/>
<path class="tk" d="M359.80 516.60H362.50M359.80 491.20H362.50M359.80 465.80H362.50" stroke="#333333" stroke-width="1.25"/>
<rect x="362.50" y="546.30" width="222.90" height="78.55" fill="#fff"/>
<path d="M362.50 614.96H585.40M362.50 601.88H585.40M362.50 588.80H585.40M362.50 575.72H585.40M362.50 562.64H585.40M362.50 549.56H585.40M384.85 546.30V624.85M423.55 546.30V624.85M462.25 546.30V624.85M500.95 546.30V624.85M539.65 546.30V624.85M578.35 546.30V624.85" stroke="#EDEDED" stroke-width="0.8" fill="none"/>
<path d="M362.50 621.50H585.40M362.50 608.42H585.40M362.50 595.34H585.40M362.50 582.26H585.40M362.50 569.18H585.40M362.50 556.10H585.40M365.50 546.30V624.85M404.20 546.30V624.85M442.90 546.30V624.85M481.60 546.30V624.85M520.30 546.30V624.85M559.00 546.30V624.85" stroke="#E9E9E9" stroke-width="1.0" fill="none"/>
<polyline points="371.90,549.40 378.73,550.40 385.35,550.40 391.98,550.20 398.31,551.40 405.14,552.90 413.35,556.60 421.27,561.10 428.39,566.30 435.32,571.50 441.25,576.60 445.80,586.50 450.85,597.00 457.48,604.30 464.70,609.60 472.41,614.90 480.82,620.70 488.94,621.40 496.46,615.20 504.07,607.60 513.57,601.40 521.29,598.50 525.94,599.00 530.39,599.70 534.45,601.20 537.51,604.60 540.48,606.60 547.01,607.80 554.03,609.10 561.75,610.50 569.17,614.30 575.70,616.50" stroke="#00BFC4" stroke-width="1.3" fill="none" stroke-linejoin="round"/>
<g fill="#00BFC4"><circle cx="371.90" cy="549.40" r="1.75"/><circle cx="378.73" cy="550.40" r="1.75"/><circle cx="385.35" cy="550.40" r="1.75"/><circle cx="391.98" cy="550.20" r="1.75"/><circle cx="398.31" cy="551.40" r="1.75"/><circle cx="405.14" cy="552.90" r="1.75"/><circle cx="413.35" cy="556.60" r="1.75"/><circle cx="421.27" cy="561.10" r="1.75"/><circle cx="428.39" cy="566.30" r="1.75"/><circle cx="435.32" cy="571.50" r="1.75"/><circle cx="441.25" cy="576.60" r="1.75"/><circle cx="445.80" cy="586.50" r="1.75"/><circle cx="450.85" cy="597.00" r="1.75"/><circle cx="457.48" cy="604.30" r="1.75"/><circle cx="464.70" cy="609.60" r="1.75"/><circle cx="472.41" cy="614.90" r="1.75"/><circle cx="480.82" cy="620.70" r="1.75"/><circle cx="488.94" cy="621.40" r="1.75"/><circle cx="496.46" cy="615.20" r="1.75"/><circle cx="504.07" cy="607.60" r="1.75"/><circle cx="513.57" cy="601.40" r="1.75"/><circle cx="521.29" cy="598.50" r="1.75"/><circle cx="525.94" cy="599.00" r="1.75"/><circle cx="530.39" cy="599.70" r="1.75"/><circle cx="534.45" cy="601.20" r="1.75"/><circle cx="537.51" cy="604.60" r="1.75"/><circle cx="540.48" cy="606.60" r="1.75"/><circle cx="547.01" cy="607.80" r="1.75"/><circle cx="554.03" cy="609.10" r="1.75"/><circle cx="561.75" cy="610.50" r="1.75"/><circle cx="569.17" cy="614.30" r="1.75"/><circle cx="575.70" cy="616.50" r="1.75"/></g>
<rect x="362.50" y="546.30" width="222.90" height="78.55" fill="none" stroke="#6A6A6A" stroke-width="1.0"/>
<rect x="586.30" y="546.30" width="17.50" height="78.55" fill="#D9D9D9" stroke="#6A6A6A" stroke-width="1.0"/>
<path class="tk" d="M359.80 621.50H362.50M359.80 608.42H362.50M359.80 595.34H362.50M359.80 582.26H362.50M359.80 569.18H362.50M359.80 556.10H362.50" stroke="#333333" stroke-width="1.25"/>
<rect x="362.50" y="631.00" width="222.90" height="78.55" fill="#fff"/>
<path d="M362.50 695.57H585.40M362.50 672.70H585.40M362.50 649.83H585.40M384.85 631.00V709.55M423.55 631.00V709.55M462.25 631.00V709.55M500.95 631.00V709.55M539.65 631.00V709.55M578.35 631.00V709.55" stroke="#EDEDED" stroke-width="0.8" fill="none"/>
<path d="M362.50 707.00H585.40M362.50 684.13H585.40M362.50 661.27H585.40M362.50 638.40H585.40M365.50 631.00V709.55M404.20 631.00V709.55M442.90 631.00V709.55M481.60 631.00V709.55M520.30 631.00V709.55M559.00 631.00V709.55" stroke="#E9E9E9" stroke-width="1.0" fill="none"/>
<polyline points="371.90,634.00 378.73,635.50 385.35,639.60 391.98,643.80 398.31,647.30 405.14,650.10 413.35,653.20 421.27,657.20 428.39,659.90 435.32,662.60 441.25,665.30 445.80,668.60 450.85,672.60 457.48,676.80 464.70,680.90 472.41,684.90 480.82,688.90 488.94,691.80 496.46,693.50 504.07,694.60 513.57,696.30 521.29,697.80 525.94,699.30 530.39,701.20 534.45,702.20 537.51,702.70 540.48,703.20 547.01,703.90 554.03,704.50 561.75,705.00 569.17,705.70 575.70,706.00" stroke="#C77CFF" stroke-width="1.3" fill="none" stroke-linejoin="round"/>
<g fill="#C77CFF"><circle cx="371.90" cy="634.00" r="1.75"/><circle cx="378.73" cy="635.50" r="1.75"/><circle cx="385.35" cy="639.60" r="1.75"/><circle cx="391.98" cy="643.80" r="1.75"/><circle cx="398.31" cy="647.30" r="1.75"/><circle cx="405.14" cy="650.10" r="1.75"/><circle cx="413.35" cy="653.20" r="1.75"/><circle cx="421.27" cy="657.20" r="1.75"/><circle cx="428.39" cy="659.90" r="1.75"/><circle cx="435.32" cy="662.60" r="1.75"/><circle cx="441.25" cy="665.30" r="1.75"/><circle cx="445.80" cy="668.60" r="1.75"/><circle cx="450.85" cy="672.60" r="1.75"/><circle cx="457.48" cy="676.80" r="1.75"/><circle cx="464.70" cy="680.90" r="1.75"/><circle cx="472.41" cy="684.90" r="1.75"/><circle cx="480.82" cy="688.90" r="1.75"/><circle cx="488.94" cy="691.80" r="1.75"/><circle cx="496.46" cy="693.50" r="1.75"/><circle cx="504.07" cy="694.60" r="1.75"/><circle cx="513.57" cy="696.30" r="1.75"/><circle cx="521.29" cy="697.80" r="1.75"/><circle cx="525.94" cy="699.30" r="1.75"/><circle cx="530.39" cy="701.20" r="1.75"/><circle cx="534.45" cy="702.20" r="1.75"/><circle cx="537.51" cy="702.70" r="1.75"/><circle cx="540.48" cy="703.20" r="1.75"/><circle cx="547.01" cy="703.90" r="1.75"/><circle cx="554.03" cy="704.50" r="1.75"/><circle cx="561.75" cy="705.00" r="1.75"/><circle cx="569.17" cy="705.70" r="1.75"/><circle cx="575.70" cy="706.00" r="1.75"/></g>
<rect x="362.50" y="631.00" width="222.90" height="78.55" fill="none" stroke="#6A6A6A" stroke-width="1.0"/>
<rect x="586.30" y="631.00" width="17.50" height="78.55" fill="#D9D9D9" stroke="#6A6A6A" stroke-width="1.0"/>
<path class="tk" d="M359.80 707.00H362.50M359.80 684.13H362.50M359.80 661.27H362.50M359.80 638.40H362.50" stroke="#333333" stroke-width="1.25"/>
<path class="tk" d="M365.50 709.55V712.25M404.20 709.55V712.25M442.90 709.55V712.25M481.60 709.55V712.25M520.30 709.55V712.25M559.00 709.55V712.25" stroke="#333333" stroke-width="1.25"/>
<path d="M622.2 337.8H636.8" stroke="#F8766D" stroke-width="1.05"/>
<circle cx="629.6" cy="337.8" r="1.65" fill="#F8766D"/>
<path d="M622.2 355.6H636.8" stroke="#7CAE00" stroke-width="1.05"/>
<circle cx="629.6" cy="355.6" r="1.65" fill="#7CAE00"/>
<path d="M622.2 373.4H636.8" stroke="#00BFC4" stroke-width="1.05"/>
<circle cx="629.6" cy="373.4" r="1.65" fill="#00BFC4"/>
<path d="M622.2 391.3H636.8" stroke="#C77CFF" stroke-width="1.05"/>
<circle cx="629.6" cy="391.3" r="1.65" fill="#C77CFF"/>
</g>
<text transform="translate(269.26,43.77) rotate(90)" class="ax" text-anchor="middle" font-size="9.25" fill="#000">Leukemia</text>
<text x="36.45" y="73.54" class="ax" text-anchor="end" font-size="9.2" fill="#444444">6.75</text>
<text x="36.45" y="56.54" class="ax" text-anchor="end" font-size="9.2" fill="#444444">7.00</text>
<text x="36.45" y="39.54" class="ax" text-anchor="end" font-size="9.2" fill="#444444">7.25</text>
<text x="36.45" y="22.54" class="ax" text-anchor="end" font-size="9.2" fill="#444444">7.50</text>
<text transform="translate(269.26,128.53) rotate(90)" class="ax" text-anchor="middle" font-size="9.25" fill="#000">MM</text>
<text x="36.45" y="166.64" class="ax" text-anchor="end" font-size="9.2" fill="#444444">0.2</text>
<text x="36.45" y="143.37" class="ax" text-anchor="end" font-size="9.2" fill="#444444">0.4</text>
<text x="36.45" y="120.10" class="ax" text-anchor="end" font-size="9.2" fill="#444444">0.6</text>
<text x="36.45" y="96.84" class="ax" text-anchor="end" font-size="9.2" fill="#444444">0.8</text>
<text transform="translate(269.26,213.28) rotate(90)" class="ax" text-anchor="middle" font-size="9.25" fill="#000">NHL</text>
<text x="36.45" y="246.24" class="ax" text-anchor="end" font-size="9.2" fill="#444444">3.5</text>
<text x="36.45" y="229.94" class="ax" text-anchor="end" font-size="9.2" fill="#444444">4.0</text>
<text x="36.45" y="213.64" class="ax" text-anchor="end" font-size="9.2" fill="#444444">4.5</text>
<text x="36.45" y="197.34" class="ax" text-anchor="end" font-size="9.2" fill="#444444">5.0</text>
<text x="36.45" y="181.04" class="ax" text-anchor="end" font-size="9.2" fill="#444444">5.5</text>
<text transform="translate(269.26,298.02) rotate(90)" class="ax" text-anchor="middle" font-size="9.25" fill="#000">HL</text>
<text x="36.45" y="316.44" class="ax" text-anchor="end" font-size="9.2" fill="#444444">0.3</text>
<text x="36.45" y="288.44" class="ax" text-anchor="end" font-size="9.2" fill="#444444">0.4</text>
<text x="45.00" y="348.90" class="ax" text-anchor="middle" font-size="9.2" fill="#444444">0.45</text>
<text x="83.30" y="348.90" class="ax" text-anchor="middle" font-size="9.2" fill="#444444">0.50</text>
<text x="121.60" y="348.90" class="ax" text-anchor="middle" font-size="9.2" fill="#444444">0.55</text>
<text x="159.90" y="348.90" class="ax" text-anchor="middle" font-size="9.2" fill="#444444">0.60</text>
<text x="198.20" y="348.90" class="ax" text-anchor="middle" font-size="9.2" fill="#444444">0.65</text>
<text x="236.50" y="348.90" class="ax" text-anchor="middle" font-size="9.2" fill="#444444">0.70</text>
<text transform="translate(591.81,43.77) rotate(90)" class="ax" text-anchor="middle" font-size="9.25" fill="#000">Leukemia</text>
<text x="354.40" y="77.24" class="ax" text-anchor="end" font-size="9.2" fill="#444444">20</text>
<text x="354.40" y="62.96" class="ax" text-anchor="end" font-size="9.2" fill="#444444">25</text>
<text x="354.40" y="48.69" class="ax" text-anchor="end" font-size="9.2" fill="#444444">30</text>
<text x="354.40" y="34.41" class="ax" text-anchor="end" font-size="9.2" fill="#444444">35</text>
<text x="354.40" y="20.14" class="ax" text-anchor="end" font-size="9.2" fill="#444444">40</text>
<text transform="translate(591.81,128.53) rotate(90)" class="ax" text-anchor="middle" font-size="9.25" fill="#000">MM</text>
<text x="354.40" y="160.34" class="ax" text-anchor="end" font-size="9.2" fill="#444444">0.5</text>
<text x="354.40" y="141.17" class="ax" text-anchor="end" font-size="9.2" fill="#444444">1.0</text>
<text x="354.40" y="122.00" class="ax" text-anchor="end" font-size="9.2" fill="#444444">1.5</text>
<text x="354.40" y="102.84" class="ax" text-anchor="end" font-size="9.2" fill="#444444">2.0</text>
<text transform="translate(591.81,213.28) rotate(90)" class="ax" text-anchor="middle" font-size="9.25" fill="#000">NHL</text>
<text x="354.40" y="244.04" class="ax" text-anchor="end" font-size="9.2" fill="#444444">10</text>
<text x="354.40" y="228.84" class="ax" text-anchor="end" font-size="9.2" fill="#444444">15</text>
<text x="354.40" y="213.64" class="ax" text-anchor="end" font-size="9.2" fill="#444444">20</text>
<text x="354.40" y="198.44" class="ax" text-anchor="end" font-size="9.2" fill="#444444">25</text>
<text x="354.40" y="183.24" class="ax" text-anchor="end" font-size="9.2" fill="#444444">30</text>
<text transform="translate(591.81,298.02) rotate(90)" class="ax" text-anchor="middle" font-size="9.25" fill="#000">HL</text>
<text x="354.40" y="338.14" class="ax" text-anchor="end" font-size="9.2" fill="#444444">1.1</text>
<text x="354.40" y="310.29" class="ax" text-anchor="end" font-size="9.2" fill="#444444">1.2</text>
<text x="354.40" y="282.44" class="ax" text-anchor="end" font-size="9.2" fill="#444444">1.3</text>
<text x="363.00" y="348.90" class="ax" text-anchor="middle" font-size="9.2" fill="#444444">0.45</text>
<text x="402.10" y="348.90" class="ax" text-anchor="middle" font-size="9.2" fill="#444444">0.50</text>
<text x="441.20" y="348.90" class="ax" text-anchor="middle" font-size="9.2" fill="#444444">0.55</text>
<text x="480.30" y="348.90" class="ax" text-anchor="middle" font-size="9.2" fill="#444444">0.60</text>
<text x="519.40" y="348.90" class="ax" text-anchor="middle" font-size="9.2" fill="#444444">0.65</text>
<text x="558.50" y="348.90" class="ax" text-anchor="middle" font-size="9.2" fill="#444444">0.70</text>
<text transform="translate(269.26,416.17) rotate(90)" class="ax" text-anchor="middle" font-size="9.25" fill="#000">Leukemia</text>
<text x="31.30" y="441.34" class="ax" text-anchor="end" font-size="9.2" fill="#444444">4</text>
<text x="31.30" y="417.59" class="ax" text-anchor="end" font-size="9.2" fill="#444444">5</text>
<text x="31.30" y="393.84" class="ax" text-anchor="end" font-size="9.2" fill="#444444">6</text>
<text transform="translate(269.26,500.88) rotate(90)" class="ax" text-anchor="middle" font-size="9.25" fill="#000">MM</text>
<text x="31.30" y="537.44" class="ax" text-anchor="end" font-size="9.2" fill="#444444">0.2</text>
<text x="31.30" y="520.76" class="ax" text-anchor="end" font-size="9.2" fill="#444444">0.3</text>
<text x="31.30" y="504.09" class="ax" text-anchor="end" font-size="9.2" fill="#444444">0.4</text>
<text x="31.30" y="487.41" class="ax" text-anchor="end" font-size="9.2" fill="#444444">0.5</text>
<text x="31.30" y="470.74" class="ax" text-anchor="end" font-size="9.2" fill="#444444">0.6</text>
<text transform="translate(269.26,585.57) rotate(90)" class="ax" text-anchor="middle" font-size="9.25" fill="#000">NHL</text>
<text x="31.30" y="608.84" class="ax" text-anchor="end" font-size="9.2" fill="#444444">2.2</text>
<text x="31.30" y="585.24" class="ax" text-anchor="end" font-size="9.2" fill="#444444">2.4</text>
<text x="31.30" y="561.64" class="ax" text-anchor="end" font-size="9.2" fill="#444444">2.6</text>
<text transform="translate(269.26,670.27) rotate(90)" class="ax" text-anchor="middle" font-size="9.25" fill="#000">HL</text>
<text x="31.30" y="693.44" class="ax" text-anchor="end" font-size="9.2" fill="#444444">0.2</text>
<text x="31.30" y="672.49" class="ax" text-anchor="end" font-size="9.2" fill="#444444">0.3</text>
<text x="31.30" y="651.54" class="ax" text-anchor="end" font-size="9.2" fill="#444444">0.4</text>
<text x="40.10" y="721.15" class="ax" text-anchor="middle" font-size="9.2" fill="#444444">0.45</text>
<text x="79.20" y="721.15" class="ax" text-anchor="middle" font-size="9.2" fill="#444444">0.50</text>
<text x="118.30" y="721.15" class="ax" text-anchor="middle" font-size="9.2" fill="#444444">0.55</text>
<text x="157.40" y="721.15" class="ax" text-anchor="middle" font-size="9.2" fill="#444444">0.60</text>
<text x="196.50" y="721.15" class="ax" text-anchor="middle" font-size="9.2" fill="#444444">0.65</text>
<text x="235.60" y="721.15" class="ax" text-anchor="middle" font-size="9.2" fill="#444444">0.70</text>
<text transform="translate(591.81,416.17) rotate(90)" class="ax" text-anchor="middle" font-size="9.25" fill="#000">Leukemia</text>
<text x="357.30" y="456.34" class="ax" text-anchor="end" font-size="9.2" fill="#444444">150</text>
<text x="357.30" y="437.44" class="ax" text-anchor="end" font-size="9.2" fill="#444444">200</text>
<text x="357.30" y="418.54" class="ax" text-anchor="end" font-size="9.2" fill="#444444">250</text>
<text x="357.30" y="399.64" class="ax" text-anchor="end" font-size="9.2" fill="#444444">300</text>
<text x="357.30" y="380.74" class="ax" text-anchor="end" font-size="9.2" fill="#444444">350</text>
<text transform="translate(591.81,500.88) rotate(90)" class="ax" text-anchor="middle" font-size="9.25" fill="#000">MM</text>
<text x="357.30" y="519.64" class="ax" text-anchor="end" font-size="9.2" fill="#444444">8</text>
<text x="357.30" y="494.24" class="ax" text-anchor="end" font-size="9.2" fill="#444444">12</text>
<text x="357.30" y="468.84" class="ax" text-anchor="end" font-size="9.2" fill="#444444">16</text>
<text transform="translate(591.81,585.57) rotate(90)" class="ax" text-anchor="middle" font-size="9.25" fill="#000">NHL</text>
<text x="357.30" y="624.54" class="ax" text-anchor="end" font-size="9.2" fill="#444444">65</text>
<text x="357.30" y="611.46" class="ax" text-anchor="end" font-size="9.2" fill="#444444">70</text>
<text x="357.30" y="598.38" class="ax" text-anchor="end" font-size="9.2" fill="#444444">75</text>
<text x="357.30" y="585.30" class="ax" text-anchor="end" font-size="9.2" fill="#444444">80</text>
<text x="357.30" y="572.22" class="ax" text-anchor="end" font-size="9.2" fill="#444444">85</text>
<text x="357.30" y="559.14" class="ax" text-anchor="end" font-size="9.2" fill="#444444">90</text>
<text transform="translate(591.81,670.27) rotate(90)" class="ax" text-anchor="middle" font-size="9.25" fill="#000">HL</text>
<text x="357.30" y="710.04" class="ax" text-anchor="end" font-size="9.2" fill="#444444">4</text>
<text x="357.30" y="687.17" class="ax" text-anchor="end" font-size="9.2" fill="#444444">8</text>
<text x="357.30" y="664.30" class="ax" text-anchor="end" font-size="9.2" fill="#444444">12</text>
<text x="357.30" y="641.44" class="ax" text-anchor="end" font-size="9.2" fill="#444444">16</text>
<text x="365.50" y="721.15" class="ax" text-anchor="middle" font-size="9.2" fill="#444444">0.45</text>
<text x="404.20" y="721.15" class="ax" text-anchor="middle" font-size="9.2" fill="#444444">0.50</text>
<text x="442.90" y="721.15" class="ax" text-anchor="middle" font-size="9.2" fill="#444444">0.55</text>
<text x="481.60" y="721.15" class="ax" text-anchor="middle" font-size="9.2" fill="#444444">0.60</text>
<text x="520.30" y="721.15" class="ax" text-anchor="middle" font-size="9.2" fill="#444444">0.65</text>
<text x="559.00" y="721.15" class="ax" text-anchor="middle" font-size="9.2" fill="#444444">0.70</text>
<text transform="translate(13.70,170.70) rotate(-90)" class="ax" text-anchor="middle" font-size="11.2" fill="#000">ASIR</text>
<text transform="translate(336.40,170.70) rotate(-90)" class="ax" text-anchor="middle" font-size="11.2" fill="#000">ASPR</text>
<text transform="translate(13.70,543.00) rotate(-90)" class="ax" text-anchor="middle" font-size="11.2" fill="#000">ASDR</text>
<text transform="translate(336.40,543.00) rotate(-90)" class="ax" text-anchor="middle" font-size="11.2" fill="#000">Age standardized DALYs</text>
<text x="149.60" y="734.5" text-anchor="middle" font-size="11.2" fill="#000">SDI</text>
<text x="473.95" y="734.5" text-anchor="middle" font-size="11.2" fill="#000">SDI</text>
<text x="0.5" y="10.6" font-family="Liberation Serif, serif" font-size="13.6" fill="#000">(A)</text>
<text x="317.9" y="10.6" font-family="Liberation Serif, serif" font-size="13.6" fill="#000">(B)</text>
<text x="0.6" y="379.8" font-family="Liberation Serif, serif" font-size="13.6" fill="#000">(C)</text>
<text x="317.7" y="379.8" font-family="Liberation Serif, serif" font-size="13.6" fill="#000">(D)</text>
<text x="644.3" y="341.08" font-size="9.25" fill="#000">Leukemia</text>
<text x="644.3" y="358.88" font-size="9.25" fill="#000">MM</text>
<text x="644.3" y="376.68" font-size="9.25" fill="#000">NHL</text>
<text x="644.3" y="394.58" font-size="9.25" fill="#000">HL</text>
</svg>
</body></html>
